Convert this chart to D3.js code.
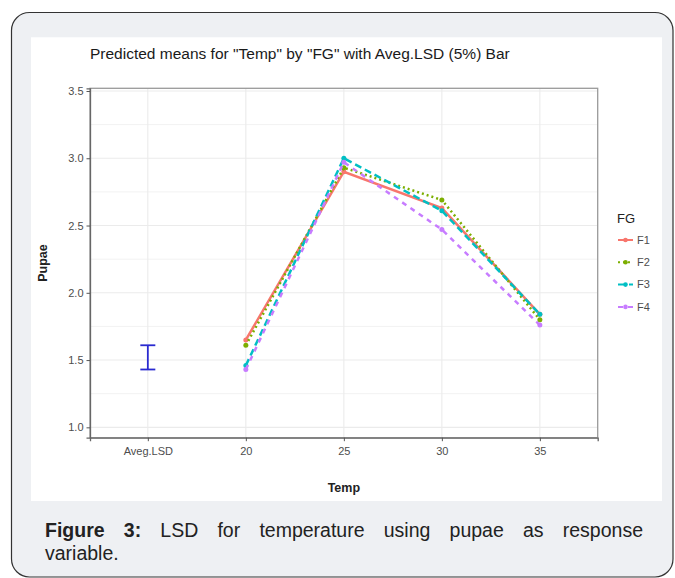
<!DOCTYPE html>
<html lang="en">
<head>
  <title>Predicted means for Temp by FG</title>
  <meta charset="utf-8">
  <script src="https://cdn.jsdelivr.net/npm/d3@7"></script>
  <style>
    body { margin: 0; background: #fff; font-family: "Liberation Sans", Arial, sans-serif; }
    #wrap { position: relative; width: 675px; height: 578px; overflow: hidden; }
    svg { position: absolute; left: 0; top: 0; }
    .caption { position: absolute; left: 45px; width: 598px; font-size: 19.5px; color: #222; line-height: 23px; }
    .caption.first { top: 519px; text-align: justify; text-align-last: justify; }
    .caption.second { top: 542px; }
  </style>
</head>
<body>
<div id="wrap">
  <svg width="675" height="578"></svg>
  <div class="caption first"><b>Figure 3:</b> LSD for temperature using pupae as response</div>
  <div class="caption second">variable.</div>
</div>
<script>
  // data
  var categories = ["Aveg.LSD", "20", "25", "30", "35"];
  var temps = ["20", "25", "30", "35"];
  var groups = ["F1", "F2", "F3", "F4"];
  var F1 = [1.65, 2.90, 2.63, 1.84];
  var F2 = [1.61, 2.93, 2.69, 1.80];
  var F3 = [1.46, 3.00, 2.61, 1.84];
  var F4 = [1.43, 2.97, 2.47, 1.76];
  var lsdBar = [1.43, 1.61];
  var yTicks = [1.0, 1.5, 2.0, 2.5, 3.0, 3.5];
  var yMinor = [1.25, 1.75, 2.25, 2.75, 3.25];

  var colors = {F1: "#F8766D", F2: "#7CAE00", F3: "#00BFC4", F4: "#C77CFF"};
  var dashes = {F1: null, F2: "2,3", F3: "7,4", F4: "5,5"};
  var series = [F1, F2, F3, F4];

  var svg = d3.select("svg");

  // outer card and white plot background
  svg.append("rect")
     .attr("x", 11.5).attr("y", 12.5)
     .attr("width", 661.5).attr("height", 564.5)
     .attr("rx", 18)
     .attr("fill", "#eef0f3")
     .attr("stroke", "#333").attr("stroke-width", 1.2);
  svg.append("rect")
     .attr("x", 31).attr("y", 37.3)
     .attr("width", 631).attr("height", 463.7)
     .attr("fill", "#fff");

  var pLeft = 90, pRight = 597.7, pTop = 88.3, pBottom = 437.7;

  var xScale = d3.scalePoint().domain(categories).range([pLeft, pRight]).padding(0.59),
      yScale = d3.scaleLinear().domain([0.923, 3.52]).range([pBottom, pTop]);

  // grid
  var grid = svg.append("g");
  grid.selectAll(".minor").data(yMinor).enter().append("line")
      .attr("x1", pLeft).attr("x2", pRight)
      .attr("y1", function(d) { return yScale(d); })
      .attr("y2", function(d) { return yScale(d); })
      .attr("stroke", "#f2f2f2").attr("stroke-width", 1);
  grid.selectAll(".major").data(yTicks).enter().append("line")
      .attr("x1", pLeft).attr("x2", pRight)
      .attr("y1", function(d) { return yScale(d); })
      .attr("y2", function(d) { return yScale(d); })
      .attr("stroke", "#ebebeb").attr("stroke-width", 1.1);
  grid.selectAll(".vert").data(categories).enter().append("line")
      .attr("y1", pTop).attr("y2", pBottom)
      .attr("x1", function(d) { return xScale(d); })
      .attr("x2", function(d) { return xScale(d); })
      .attr("stroke", "#ebebeb").attr("stroke-width", 1.1);

  // panel border
  svg.append("rect")
     .attr("x", pLeft).attr("y", pTop)
     .attr("width", pRight - pLeft).attr("height", pBottom - pTop)
     .attr("fill", "none").attr("stroke", "#9a9a9a").attr("stroke-width", 1.3);

  // axes
  var xAxis = svg.append("g")
     .attr("transform", "translate(0," + pBottom + ")")
     .call(d3.axisBottom(xScale).tickSize(3.5).tickPadding(6));
  var yAxis = svg.append("g")
     .attr("transform", "translate(" + pLeft + ",0)")
     .call(d3.axisLeft(yScale).tickValues(yTicks).tickSize(3.5).tickPadding(3)
       .tickFormat(d3.format(".1f")));
  [xAxis, yAxis].forEach(function(a) {
    a.select(".domain").attr("stroke", "#666").attr("stroke-width", 1.3);
    a.selectAll(".tick line").attr("stroke", "#555");
    a.selectAll(".tick text")
     .attr("fill", "#4d4d4d")
     .style("font-family", "'Liberation Sans', Arial, sans-serif")
     .style("font-size", "11px");
  });

  // title and axis titles
  svg.append("text")
     .attr("x", 90).attr("y", 59)
     .style("font-size", "15.5px")
     .attr("fill", "#1a1a1a")
     .text('Predicted means for "Temp" by "FG" with Aveg.LSD (5%) Bar');
  svg.append("text")
     .attr("x", (pLeft + pRight) / 2).attr("y", 492)
     .attr("text-anchor", "middle")
     .style("font-size", "12.5px").style("font-weight", "bold")
     .attr("fill", "#222")
     .text("Temp");
  svg.append("text")
     .attr("transform", "translate(47," + (pTop + pBottom) / 2 + ") rotate(-90)")
     .attr("text-anchor", "middle")
     .style("font-size", "12.5px").style("font-weight", "bold")
     .attr("fill", "#222")
     .text("Pupae");

  // LSD bar
  var lx = xScale("Aveg.LSD");
  var lsd = svg.append("g").attr("stroke", "#2a2ad0").attr("stroke-width", 1.8);
  lsd.append("line").attr("x1", lx).attr("x2", lx)
     .attr("y1", yScale(lsdBar[0])).attr("y2", yScale(lsdBar[1]));
  lsdBar.forEach(function(v) {
    lsd.append("line").attr("x1", lx - 7.5).attr("x2", lx + 7.5)
       .attr("y1", yScale(v)).attr("y2", yScale(v));
  });

  // lines
  var line = d3.line()
     .x(function(d, i) { return xScale(temps[i]); })
     .y(function(d) { return yScale(d); });

  groups.forEach(function(g, k) {
    svg.append("path")
       .datum(series[k])
       .attr("fill", "none")
       .attr("stroke", colors[g])
       .attr("stroke-width", 2.5)
       .attr("stroke-dasharray", dashes[g])
       .attr("d", line);
    svg.selectAll(".pt" + g)
       .data(series[k])
       .enter().append("circle")
       .attr("cx", function(d, i) { return xScale(temps[i]); })
       .attr("cy", function(d) { return yScale(d); })
       .attr("r", 2.5)
       .attr("fill", colors[g]);
  });

  // legend
  var legend = svg.append("g");
  legend.append("text")
     .attr("x", 617).attr("y", 218).attr("dy", "0.35em")
     .style("font-size", "13px").attr("fill", "#222")
     .text("FG");
  groups.forEach(function(g, k) {
    var ly = 240 + k * 22.3;
    legend.append("line")
       .attr("x1", 618).attr("x2", 633).attr("y1", ly).attr("y2", ly)
       .attr("stroke", colors[g]).attr("stroke-width", 2)
       .attr("stroke-dasharray", dashes[g]);
    legend.append("circle")
       .attr("cx", 625.5).attr("cy", ly).attr("r", 2.3)
       .attr("fill", colors[g]);
    legend.append("text")
       .attr("x", 637).attr("y", ly).attr("dy", "0.35em")
       .style("font-size", "11px").attr("fill", "#4d4d4d")
       .text(g);
  });
</script>
</body>
</html>
